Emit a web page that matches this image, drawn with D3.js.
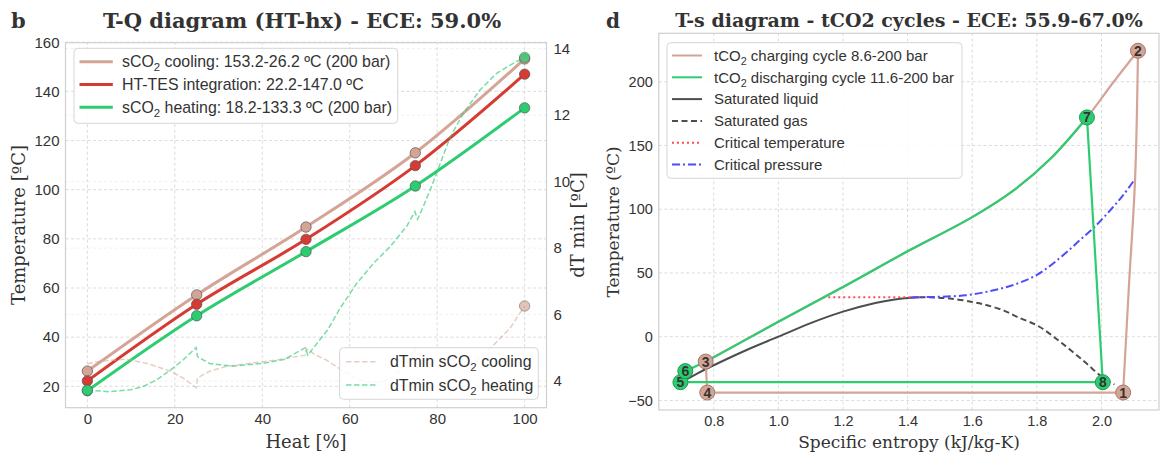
<!DOCTYPE html>
<html>
<head>
<meta charset="utf-8">
<script src="https://cdn.jsdelivr.net/npm/d3@7"></script>
<style>
body { margin: 0; background: #fff; }
svg text { font-family: "Liberation Sans", Arial, sans-serif; fill: #333; }
svg text.serif { font-family: "DejaVu Serif", serif; }
</style>
</head>
<body>
<svg id="fig" width="1161" height="454"></svg>
<script>

// ---- T-Q diagram data (left) ----
var heatPct   = [0, 25, 50, 75, 100];
var coolingT  = [26.2, 57.2, 84.8, 115.0, 153.2];
var htesT     = [22.2, 53.4, 79.8, 109.8, 147.0];
var heatingT  = [18.2, 48.7, 74.8, 101.5, 133.3];

var dtCoolX = [0, 3, 9, 14, 19, 22, 24.9, 25.2, 28, 32, 38, 44, 49.8, 50.1, 52, 54.7, 58, 61, 64, 67, 70, 73, 74.9, 75.2, 78, 82, 86, 89, 92.4, 96.7, 100];
var dtCoolV = [4.52, 4.6, 4.66, 4.52, 4.3, 4.08, 3.8, 4.1, 4.3, 4.45, 4.55, 4.65, 4.78, 4.98, 4.8, 4.63, 4.35, 4.1, 3.98, 3.96, 4.12, 4.5, 4.98, 4.72, 4.52, 4.38, 4.45, 4.65, 5.02, 5.6, 6.26];

var dtHeatX = [0, 5, 10, 13, 16, 19, 22, 24.9, 25.2, 28, 33, 40, 45, 49.9, 50.4, 54.9, 57.8, 61.6, 65.4, 69.2, 73, 74.9, 75.5, 76.5, 78.4, 80.7, 83, 86, 89.8, 93.6, 97.4, 100];
var dtHeatV = [3.73, 3.68, 3.74, 3.85, 4.05, 4.33, 4.65, 5.01, 4.73, 4.53, 4.45, 4.53, 4.65, 5.01, 4.78, 5.53, 6.19, 6.94, 7.54, 8.04, 8.65, 9.1, 8.87, 9.15, 9.75, 10.55, 11.35, 12.06, 12.76, 13.26, 13.56, 13.74];

var tqXTicks  = [0, 20, 40, 60, 80, 100];
var tqYTicks  = [20, 40, 60, 80, 100, 120, 140, 160];
var dtYTicks  = [4, 6, 8, 10, 12, 14];

// ---- T-s diagram data (right) ----
// charging cycle: 1->2 compression, 2->3 cooling at 200 bar, 3->4 expansion, 4->1 evaporation
var compS = [2.067, 2.085, 2.104, 2.113];
var compT = [-43.8, 40, 123.8, 224.3];
var coolS = [2.113, 2.035, 1.955, 1.842, 1.727, 1.6, 1.4, 1.2, 1.0, 0.775];
var coolT = [224.3, 199, 172, 139.6, 114.6, 93.8, 67, 39, 11.7, -19.5];
var expS  = [0.775, 0.78, 2.067];
var expT  = [-19.5, -43.8, -43.8];

// discharging cycle: 5->6 pump, 6->7 heating at 200 bar, 7->8 turbine, 8->5 condensation
var pumpS = [0.697, 0.712];
var pumpT = [-35.7, -27.0];
var heatS = [0.712, 0.775, 1.0, 1.2, 1.4, 1.6, 1.727, 1.842, 1.955];
var heatT = [-27.0, -19.5, 11.7, 39, 67, 93.8, 114.6, 139.6, 172];
var turbS = [1.955, 2.004, 0.697];
var turbT = [172, -35.7, -35.7];

var liqS = [0.688, 0.75, 0.80, 0.90, 1.0, 1.1, 1.2, 1.3, 1.36, 1.41, 1.437];
var liqT = [-37.5, -28.7, -22.4, -10.6, 0, 10.7, 19.7, 26.5, 29.2, 30.6, 31.0];

var gasS = [1.437, 1.48, 1.531, 1.6, 1.646, 1.70, 1.739, 1.808, 1.878, 1.947, 2.0, 2.04];
var gasT = [31.0, 30.8, 30.0, 27.3, 24.7, 20.3, 15.6, 7.8, -5.2, -19.5, -31.2, -37.5];

var critTS = [1.139, 1.437];
var critTT = [31, 31];

var critPS = [1.41, 1.437, 1.5, 1.58, 1.65, 1.72, 1.80, 1.87, 1.93, 1.98, 2.03, 2.07, 2.104];
var critPT = [30.8, 31, 31.3, 32.5, 35.5, 40, 48.5, 61.5, 75, 86.5, 100, 112, 123.8];

var pointNames = ["1", "2", "3", "4", "5", "6", "7", "8"];
var pointS     = [2.067, 2.113, 0.775, 0.78, 0.697, 0.712, 1.955, 2.004];
var pointT     = [-43.8, 224.3, -19.5, -43.8, -35.7, -27.0, 172, -35.7];
var pointCycle = ["c", "c", "c", "c", "d", "d", "d", "d"];

var tsXTicks = [0.8, 1.0, 1.2, 1.4, 1.6, 1.8, 2.0];
var tsYTicks = [-50, 0, 50, 100, 150, 200];

var tan = "#d4a596", red = "#d63a32", green = "#2ecc71";

var svg = d3.select("#fig");

function zip(a, b) { return a.map(function (v, i) { return [v, b[i]]; }); }

// text with "_2" turned into a subscript
function richText(sel, str) {
    var parts = str.split("_2");
    parts.forEach(function (p, i) {
        if (i > 0) {
            sel.append("tspan").attr("dy", 4).attr("font-size", "0.72em").text("2");
            sel.append("tspan").attr("dy", -4).text(p);
        } else {
            sel.append("tspan").text(p);
        }
    });
}

function frame(x, y) {
    svg.append("rect")
       .attr("x", x.range()[0]).attr("y", y.range()[1])
       .attr("width", x.range()[1] - x.range()[0])
       .attr("height", y.range()[0] - y.range()[1])
       .attr("fill", "none").attr("stroke", "#cfcfcf").attr("stroke-width", 1.2);
}

function grid(x, y, xt, yt, color) {
    var g = svg.append("g");
    if (xt) {
        g.selectAll(null).data(xt).enter().append("line")
         .attr("x1", function (d) { return x(d); }).attr("x2", function (d) { return x(d); })
         .attr("y1", y.range()[0]).attr("y2", y.range()[1]);
    }
    g.selectAll(null).data(yt).enter().append("line")
     .attr("x1", x.range()[0]).attr("x2", x.range()[1])
     .attr("y1", function (d) { return y(d); }).attr("y2", function (d) { return y(d); });
    g.selectAll("line").attr("stroke", color).attr("stroke-width", 0.8).attr("stroke-dasharray", "3,2.5");
}

function axisText(size) {
    return function (g) {
        g.select(".domain").remove();
        g.selectAll("line").remove();
        g.selectAll("text").attr("font-size", size).attr("fill", "#333");
    };
}

function legendBox(x, y, w, h) {
    svg.append("rect").attr("x", x).attr("y", y).attr("width", w).attr("height", h)
       .attr("rx", 4).attr("fill", "#fff").attr("fill-opacity", 0.85)
       .attr("stroke", "#d6d6d6").attr("stroke-width", 1);
}

// ================= left : T-Q diagram =================
var xQ  = d3.scaleLinear().domain([-5, 105]).range([65.5, 546.5]);
var yQ  = d3.scaleLinear().domain([11.3, 159.8]).range([407.7, 42.7]);
var yDT = d3.scaleLinear().domain([3.2, 14.18]).range([407.7, 42.7]);

grid(xQ, yDT, null, dtYTicks, "#ececec");
grid(xQ, yQ, tqXTicks, tqYTicks, "#d2d2d2");
frame(xQ, yQ);

svg.append("g").attr("transform", "translate(0,407.7)")
   .call(d3.axisBottom(xQ).tickValues(tqXTicks).tickSize(0).tickPadding(6).tickFormat(d3.format("d")))
   .call(axisText("15px"));
svg.append("g").attr("transform", "translate(65.5,0)")
   .call(d3.axisLeft(yQ).tickValues(tqYTicks).tickSize(0).tickPadding(6).tickFormat(d3.format("d")))
   .call(axisText("15px"));
svg.append("g").attr("transform", "translate(546.5,0)")
   .call(d3.axisRight(yDT).tickValues(dtYTicks).tickSize(0).tickPadding(7).tickFormat(d3.format("d")))
   .call(axisText("15px"));

var lineQ = d3.line().x(function (d) { return xQ(d[0]); }).y(function (d) { return yQ(d[1]); }).curve(d3.curveMonotoneX);
var lineDT = d3.line().x(function (d) { return xQ(d[0]); }).y(function (d) { return yDT(d[1]); });

var tqSeries = [
    {vals: coolingT, color: tan},
    {vals: htesT, color: red},
    {vals: heatingT, color: green}
];
tqSeries.forEach(function (s) {
    svg.append("path").attr("d", lineQ(zip(heatPct, s.vals)))
       .attr("fill", "none").attr("stroke", s.color).attr("stroke-width", 3);
    svg.selectAll(null).data(zip(heatPct, s.vals)).enter().append("circle")
       .attr("cx", function (d) { return xQ(d[0]); })
       .attr("cy", function (d) { return yQ(d[1]); })
       .attr("r", 5.2).attr("fill", s.color).attr("stroke", "#555").attr("stroke-width", 0.7);
});

legendBox(74, 48.3, 323.7, 75);
var leg1 = ["sCO_2 cooling: 153.2-26.2 ºC (200 bar)", "HT-TES integration: 22.2-147.0 ºC", "sCO_2 heating: 18.2-133.3 ºC (200 bar)"];
leg1.forEach(function (t, i) {
    var yy = 61.7 + i * 22.8;
    svg.append("line").attr("x1", 79.5).attr("x2", 112.8).attr("y1", yy).attr("y2", yy)
       .attr("stroke", tqSeries[i].color).attr("stroke-width", 3);
    richText(svg.append("text").attr("x", 122).attr("y", yy + 5.5).attr("font-size", "15.9px"), t);
});

// dTmin curves on the twin axis
var dtSeries = [
    {x: dtCoolX, v: dtCoolV, color: tan, op: 0.55, marks: [dtCoolX.length - 1]},
    {x: dtHeatX, v: dtHeatV, color: green, op: 0.65, marks: [0, dtHeatX.length - 1]}
];
dtSeries.forEach(function (s) {
    svg.append("path").attr("d", lineDT(zip(s.x, s.v)))
       .attr("fill", "none").attr("stroke", s.color).attr("stroke-width", 1.5)
       .attr("stroke-dasharray", "5.5,2.5").attr("opacity", s.op);
    s.marks.forEach(function (k) {
        svg.append("circle").attr("cx", xQ(s.x[k])).attr("cy", yDT(s.v[k])).attr("r", 5.2)
           .attr("fill", s.color).attr("fill-opacity", s.op + 0.1)
           .attr("stroke", "#555").attr("stroke-width", 0.7).attr("stroke-opacity", 0.7);
    });
});

legendBox(339.6, 347.7, 198.7, 51.6);
var leg2 = ["dTmin sCO_2 cooling", "dTmin sCO_2 heating"];
leg2.forEach(function (t, i) {
    var yy = 361.7 + i * 23.3;
    svg.append("line").attr("x1", 346).attr("x2", 378).attr("y1", yy).attr("y2", yy)
       .attr("stroke", dtSeries[i].color).attr("stroke-width", 1.5)
       .attr("stroke-dasharray", "5.5,2.5").attr("opacity", dtSeries[i].op);
    richText(svg.append("text").attr("x", 390).attr("y", yy + 5.5).attr("font-size", "15.9px"), t);
});

svg.append("text").attr("class", "serif").attr("x", 306).attr("y", 441.7).attr("dy", "0.35em")
   .attr("text-anchor", "middle").attr("font-size", "18px").text("Heat [%]");
svg.append("text").attr("class", "serif").attr("transform", "translate(18.5,225) rotate(-90)")
   .attr("dy", "0.35em").attr("text-anchor", "middle").attr("font-size", "18px").text("Temperature [ºC]");
svg.append("text").attr("class", "serif").attr("transform", "translate(578,225) rotate(-90)")
   .attr("dy", "0.35em").attr("text-anchor", "middle").attr("font-size", "18px").text("dT min [ºC]");
svg.append("text").attr("class", "serif").attr("x", 302).attr("y", 20.7).attr("dy", "0.35em")
   .attr("text-anchor", "middle").attr("font-size", "21px").attr("font-weight", "bold")
   .attr("fill", "#222").text("T-Q diagram (HT-hx) - ECE: 59.0%");
svg.append("text").attr("class", "serif").attr("x", 11).attr("y", 20.7).attr("dy", "0.35em")
   .attr("font-size", "21px").attr("font-weight", "bold").attr("fill", "#222").text("b");

// ================= right : T-s diagram =================
var xS = d3.scaleLinear().domain([0.63, 2.178]).range([658.8, 1159]);
var yS = d3.scaleLinear().domain([-57.5, 238]).range([410, 33.3]);

grid(xS, yS, tsXTicks, tsYTicks, "#d2d2d2");
frame(xS, yS);

svg.append("g").attr("transform", "translate(0,410)")
   .call(d3.axisBottom(xS).tickValues(tsXTicks).tickSize(0).tickPadding(6).tickFormat(d3.format(".1f")))
   .call(axisText("14.5px"));
svg.append("g").attr("transform", "translate(658.8,0)")
   .call(d3.axisLeft(yS).tickValues(tsYTicks).tickSize(0).tickPadding(6))
   .call(axisText("14.5px"));

var lineS = d3.line().x(function (d) { return xS(d[0]); }).y(function (d) { return yS(d[1]); });
var smoothS = d3.line().x(function (d) { return xS(d[0]); }).y(function (d) { return yS(d[1]); }).curve(d3.curveCatmullRom);

var tsLines = [
    {d: smoothS(zip(liqS, liqT)), color: "#4d4d4d", w: 2, dash: null},
    {d: smoothS(zip(gasS, gasT)), color: "#4d4d4d", w: 2, dash: "6,3.5"},
    {d: lineS(zip(critTS, critTT)), color: "#ff4d4d", w: 2, dash: "2,3"},
    {d: smoothS(zip(critPS, critPT)), color: "#4d4dff", w: 2, dash: "8,3,2,3"},
    {d: smoothS(zip(compS, compT)), color: tan, w: 2.2, dash: null},
    {d: smoothS(zip(coolS, coolT)), color: tan, w: 2.2, dash: null},
    {d: lineS(zip(expS, expT)), color: tan, w: 2.2, dash: null},
    {d: lineS(zip(pumpS, pumpT)), color: green, w: 2.2, dash: null},
    {d: smoothS(zip(heatS, heatT)), color: green, w: 2.2, dash: null},
    {d: lineS(zip(turbS, turbT)), color: green, w: 2.2, dash: null}
];
tsLines.forEach(function (l) {
    svg.append("path").attr("d", l.d).attr("fill", "none")
       .attr("stroke", l.color).attr("stroke-width", l.w)
       .attr("stroke-linejoin", "round")
       .attr("stroke-dasharray", l.dash);
});

var pts = svg.selectAll(".pt").data(pointNames).enter().append("g")
    .attr("transform", function (d, i) { return "translate(" + xS(pointS[i]) + "," + yS(pointT[i]) + ")"; });
pts.append("circle").attr("r", 7.5)
   .attr("fill", function (d, i) { return pointCycle[i] == "c" ? tan : green; })
   .attr("stroke", function (d, i) { return pointCycle[i] == "c" ? "#a07868" : "#1f9a52"; })
   .attr("stroke-width", 1);
pts.append("text").attr("text-anchor", "middle").attr("dy", "0.36em")
   .attr("font-size", "14px").attr("font-weight", "bold").attr("fill", "#000")
   .text(function (d) { return d; });

legendBox(667, 42.7, 295, 135.6);
var leg3 = [
    {t: "tCO_2 charging cycle 8.6-200 bar", color: tan, dash: null},
    {t: "tCO_2 discharging cycle 11.6-200 bar", color: green, dash: null},
    {t: "Saturated liquid", color: "#4d4d4d", dash: null},
    {t: "Saturated gas", color: "#4d4d4d", dash: "6,3.5"},
    {t: "Critical temperature", color: "#ff4d4d", dash: "2,3"},
    {t: "Critical pressure", color: "#4d4dff", dash: "8,3,2,3"}
];
leg3.forEach(function (l, i) {
    var yy = 55.5 + i * 21.8;
    svg.append("line").attr("x1", 672).attr("x2", 702).attr("y1", yy).attr("y2", yy)
       .attr("stroke", l.color).attr("stroke-width", 2).attr("stroke-dasharray", l.dash);
    richText(svg.append("text").attr("x", 714).attr("y", yy + 5.2).attr("font-size", "15px"), l.t);
});

svg.append("text").attr("class", "serif").attr("x", 909).attr("y", 441.7).attr("dy", "0.35em")
   .attr("text-anchor", "middle").attr("font-size", "17px").text("Specific entropy (kJ/kg-K)");
svg.append("text").attr("class", "serif").attr("transform", "translate(613,222) rotate(-90)")
   .attr("dy", "0.35em").attr("text-anchor", "middle").attr("font-size", "17px").text("Temperature (ºC)");
svg.append("text").attr("class", "serif").attr("x", 909).attr("y", 20.7).attr("dy", "0.35em")
   .attr("text-anchor", "middle").attr("font-size", "19px").attr("font-weight", "bold")
   .attr("fill", "#222").text("T-s diagram - tCO2 cycles - ECE: 55.9-67.0%");
svg.append("text").attr("class", "serif").attr("x", 606).attr("y", 20.7).attr("dy", "0.35em")
   .attr("font-size", "20px").attr("font-weight", "bold").attr("fill", "#222").text("d");

</script>
</body>
</html>
